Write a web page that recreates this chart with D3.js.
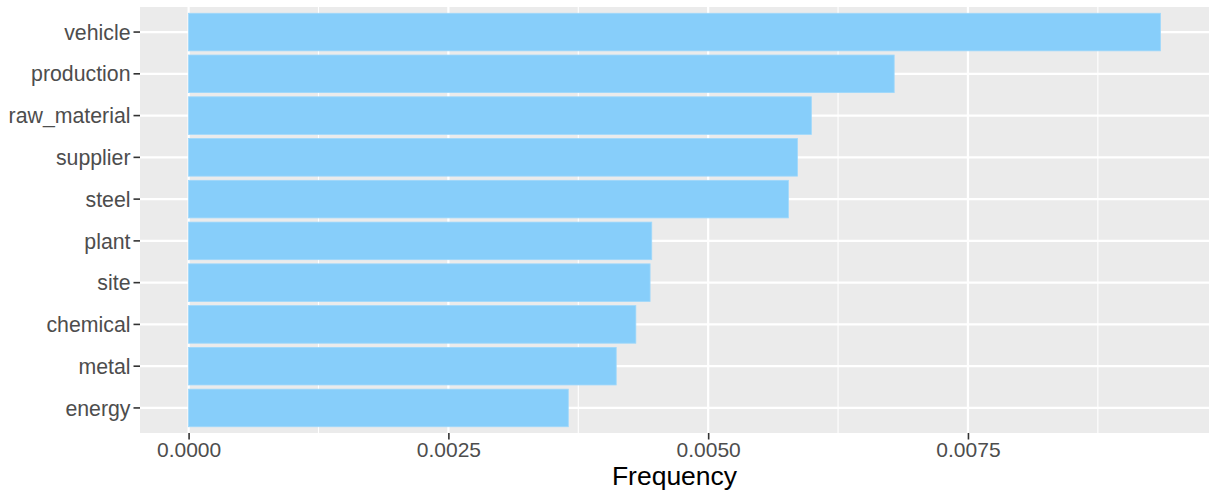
<!DOCTYPE html>
<html>
<head>
<meta charset="utf-8">
<script src="https://cdn.jsdelivr.net/npm/d3@7"></script>
<style>
html,body{margin:0;padding:0;background:#fff;}
svg{display:block;font-family:"Liberation Sans",Arial,sans-serif;}
</style>
</head>
<body>
<svg id="chart" width="1209" height="493"></svg>
<script>
const categories = ["vehicle","production","raw_material","supplier","steel","plant","site","chemical","metal","energy"];
const frequencies = [0.009352,0.006790,0.005993,0.005859,0.005772,0.004457,0.004441,0.004304,0.004115,0.003654];
const xTicks = [0,0.0025,0.005,0.0075];
const xMinorTicks = [0.00125,0.00375,0.00625,0.00875];
const xTitle = "Frequency";

const W = 1209, H = 493;
const panel = {left:140, right:1209, top:7, bottom:433};
const svg = d3.select("#chart");

const maxV = d3.max(frequencies);
const x = d3.scaleLinear()
  .domain([-0.05*maxV, maxV*1.05])
  .range([panel.left, panel.right]);
const y = d3.scaleBand()
  .domain(categories)
  .range([panel.top, panel.bottom])
  .paddingInner(0.1)
  .paddingOuter(0.15);

// panel background
svg.append("rect")
  .attr("x", panel.left).attr("y", panel.top)
  .attr("width", panel.right-panel.left).attr("height", panel.bottom-panel.top)
  .attr("fill", "#EBEBEB");

// minor gridlines
svg.append("g").selectAll("line").data(xMinorTicks).join("line")
  .attr("x1", d=>x(d)).attr("x2", d=>x(d))
  .attr("y1", panel.top).attr("y2", panel.bottom)
  .attr("stroke", "#fff").attr("stroke-width", 1.1);

// major gridlines vertical
svg.append("g").selectAll("line").data(xTicks).join("line")
  .attr("x1", d=>x(d)).attr("x2", d=>x(d))
  .attr("y1", panel.top).attr("y2", panel.bottom)
  .attr("stroke", "#fff").attr("stroke-width", 2.2);

// major gridlines horizontal
svg.append("g").selectAll("line").data(categories).join("line")
  .attr("x1", panel.left).attr("x2", panel.right)
  .attr("y1", d=>y(d)+y.bandwidth()/2).attr("y2", d=>y(d)+y.bandwidth()/2)
  .attr("stroke", "#fff").attr("stroke-width", 2.2);

// bars
svg.append("g").selectAll("rect").data(categories).join("rect")
  .attr("x", x(0))
  .attr("y", d=>y(d))
  .attr("width", (d,i)=>x(frequencies[i])-x(0))
  .attr("height", y.bandwidth())
  .attr("fill", "#87CEFA")
  .attr("stroke", "#9fd8fb")
  .attr("stroke-width", 0.8);

// y axis
const yAxis = d3.axisLeft(y).tickSize(6.5).tickPadding(3);
const gy = svg.append("g").attr("transform", `translate(${panel.left},0)`).call(yAxis);
gy.select(".domain").remove();
gy.selectAll(".tick line").attr("stroke", "#333").attr("stroke-width", 1.6);
gy.selectAll(".tick text").attr("fill", "#4D4D4D").style("font-size", "21.3px")
  .attr("dy", "0.36em")
  .style("font-family", "'Liberation Sans',Arial,sans-serif");

// x axis
const xAxis = d3.axisBottom(x).tickValues(xTicks).tickFormat(d3.format(".4f")).tickSize(6.5).tickPadding(2.5);
const gx = svg.append("g").attr("transform", `translate(0,${panel.bottom})`).call(xAxis);
gx.select(".domain").remove();
gx.selectAll(".tick line").attr("stroke", "#333").attr("stroke-width", 1.6);
gx.selectAll(".tick text").attr("fill", "#4D4D4D").style("font-size", "21px")
  .style("font-family", "'Liberation Sans',Arial,sans-serif");

// x title
svg.append("text")
  .attr("x", (panel.left+panel.right)/2)
  .attr("y", 485)
  .attr("text-anchor", "middle")
  .attr("fill", "#000")
  .style("font-size", "26.5px")
  .text(xTitle);
</script>
</body>
</html>
